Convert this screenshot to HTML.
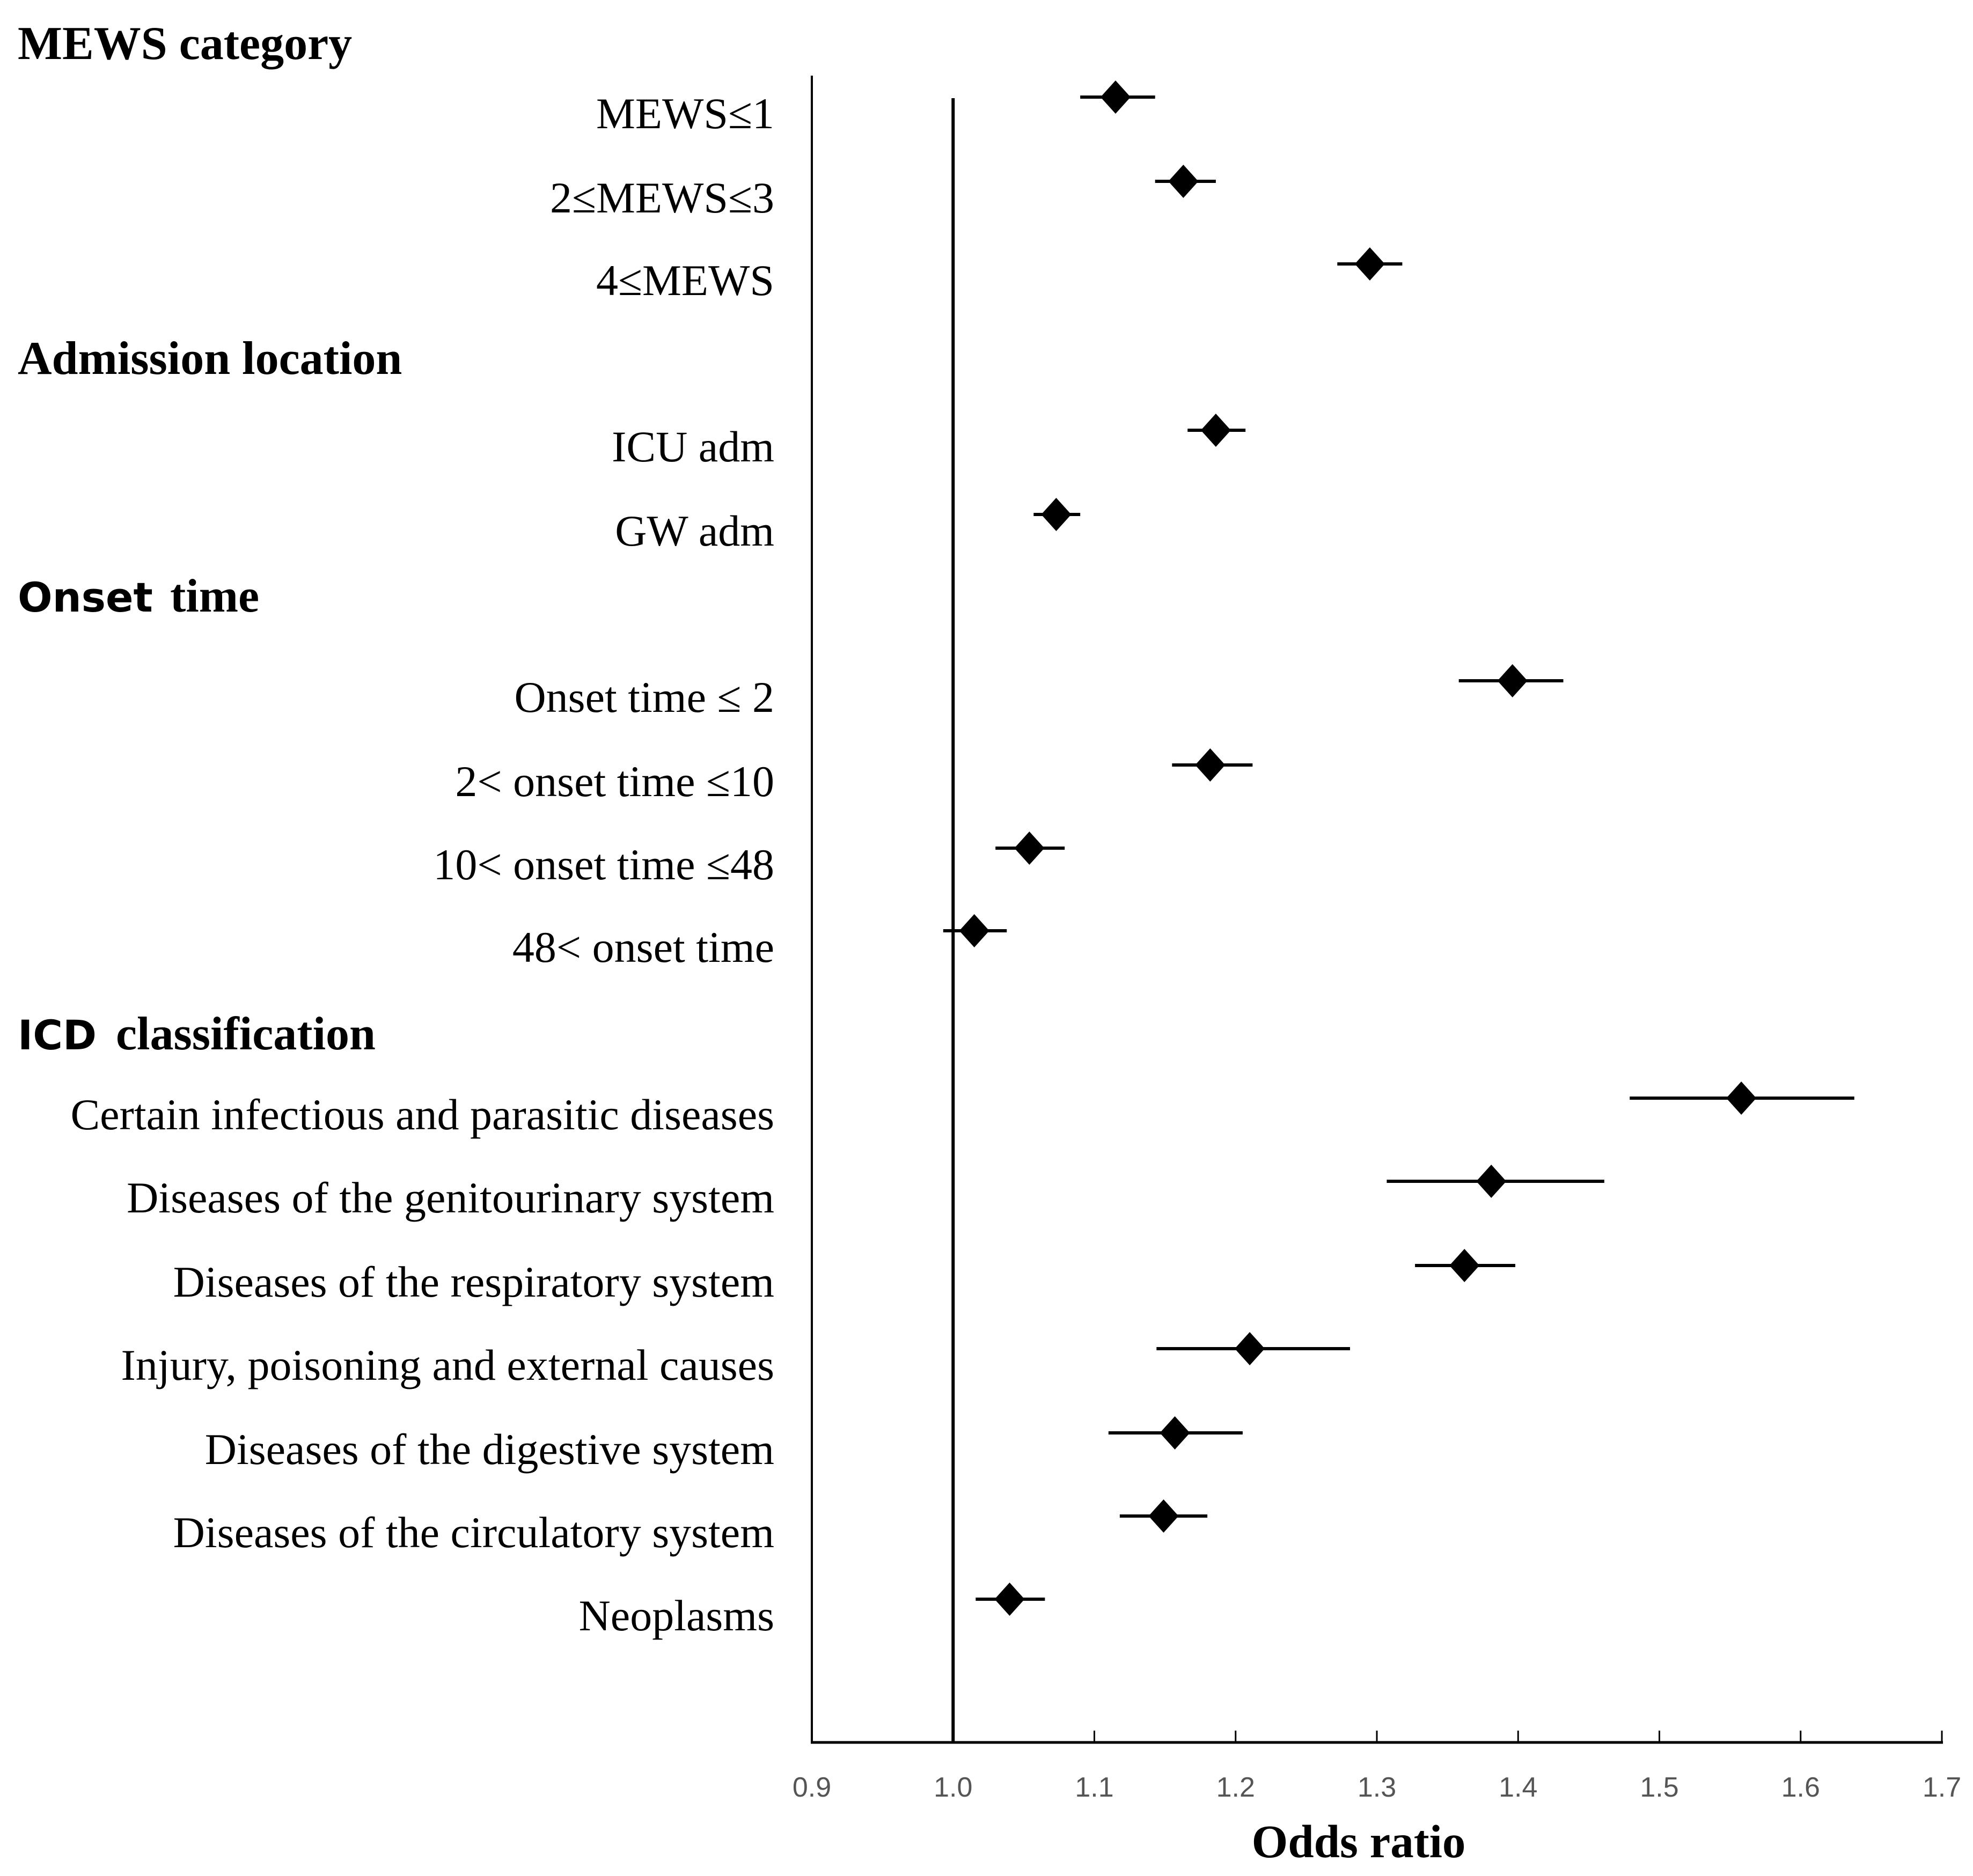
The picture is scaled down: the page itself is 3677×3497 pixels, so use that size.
<!DOCTYPE html>
<html><head><meta charset="utf-8"><style>
html,body{margin:0;padding:0;background:#fff;}
svg{display:block;}
.lab{font-family:"Liberation Serif",serif;font-size:82px;fill:#000;}
.hd{font-family:"Liberation Serif",serif;font-size:88px;font-weight:bold;fill:#000;}
.hs{font-family:"DejaVu Sans","Liberation Sans",sans-serif;font-size:76px;font-weight:bold;fill:#000;}
.tk{font-family:"Liberation Sans",sans-serif;font-size:52px;fill:#555;}
</style></head><body>
<svg id="chart" width="3677" height="3497" viewBox="0 0 3677 3497" xmlns="http://www.w3.org/2000/svg">
<g id="heads">
<text class="hd" x="33" y="110">MEWS category</text>
<text class="hd" x="33" y="697">Admission location</text>
<text class="hs" x="33" y="1140" font-family="DejaVu Sans">Onset</text>
<text class="hd" x="317" y="1140" font-family="Liberation Serif">time</text>
<text class="hs" x="33" y="1956" font-family="DejaVu Sans">ICD</text>
<text class="hd" x="216" y="1956" font-family="Liberation Serif">classification</text>
</g>
<g id="labels"></g>
<g id="axis"></g>
<g id="marks"></g>
<text class="hd" x="2532" y="3462" text-anchor="middle" style="font-size:87px">Odds ratio</text>
</svg>
<script>
const categories = ["MEWS\u22641","2\u2264MEWS\u22643","4\u2264MEWS","ICU adm","GW adm","Onset time \u2264 2","2< onset time \u226410","10< onset time \u226448","48< onset time","Certain infectious and parasitic diseases","Diseases of the genitourinary system","Diseases of the respiratory system","Injury, poisoning and external causes","Diseases of the digestive system","Diseases of the circulatory system","Neoplasms"];
const oddsRatio = [1.115,1.163,1.295,1.186,1.073,1.396,1.182,1.054,1.015,1.558,1.381,1.362,1.210,1.157,1.149,1.040];
const lower = [1.090,1.143,1.272,1.166,1.057,1.358,1.155,1.030,0.993,1.479,1.307,1.327,1.144,1.110,1.118,1.016];
const upper = [1.143,1.186,1.318,1.207,1.090,1.432,1.212,1.079,1.038,1.638,1.461,1.398,1.281,1.205,1.180,1.065];
const rowSlots = [0,1,2,4,5,7,8,9,10,12,13,14,15,16,17,18];
const tickValues = [0.9,1.0,1.1,1.2,1.3,1.4,1.5,1.6,1.7];
const tickLabels = ["0.9","1.0","1.1","1.2","1.3","1.4","1.5","1.6","1.7"];
const refValue = 1.0;

const NS="http://www.w3.org/2000/svg";
const X0=1513,X1=3619,VMIN=0.9,VMAX=1.7,AXY=3248;
function xs(v){return X0+(v-VMIN)/(VMAX-VMIN)*(X1-X0);}
const slotY=[181,338,492,647,802,959,1114,1269,1426,1581,1735,1891,2047,2202,2359,2514,2671,2826,2981];
function ys(s){return slotY[s];}
function mk(tag,attrs,parent){const e=document.createElementNS(NS,tag);for(const k in attrs)e.setAttribute(k,attrs[k]);parent.appendChild(e);return e;}
const axis=document.getElementById('axis'),marks=document.getElementById('marks'),labels=document.getElementById('labels');
let e;
e=mk('line',{x1:X0,y1:141,x2:X0,y2:AXY,stroke:'#000','stroke-width':4},axis);


e=mk('line',{x1:X0-2,y1:AXY,x2:X1+2,y2:AXY,stroke:'#000','stroke-width':5},axis);


tickValues.forEach((v,i)=>{
  const t=mk('line',{x1:xs(v),y1:AXY-22,x2:xs(v),y2:AXY,stroke:'#000','stroke-width':3},axis);
  
  
  const l=mk('text',{x:xs(v),y:3349,'text-anchor':'middle','class':'tk'},axis);
  l.textContent=tickLabels[i];
  
  
});
e=mk('line',{x1:xs(refValue),y1:183,x2:xs(refValue),y2:AXY,stroke:'#000','stroke-width':6},axis);


categories.forEach((c,i)=>{
  const y=ys(rowSlots[i]);
  const t=mk('text',{x:1443,y:y+58,'text-anchor':'end','class':'lab'},labels);
  t.textContent=c;
  
  
  const ci=mk('line',{x1:xs(lower[i]),y1:y,x2:xs(upper[i]),y2:y,stroke:'#000','stroke-width':6},marks);
  
  
  const x=xs(oddsRatio[i]);
  const d=mk('polygon',{points:`${x},${y-31} ${x+28},${y} ${x},${y+31} ${x-28},${y}`,fill:'#000'},marks);
  
  
});
</script>
</body></html>
